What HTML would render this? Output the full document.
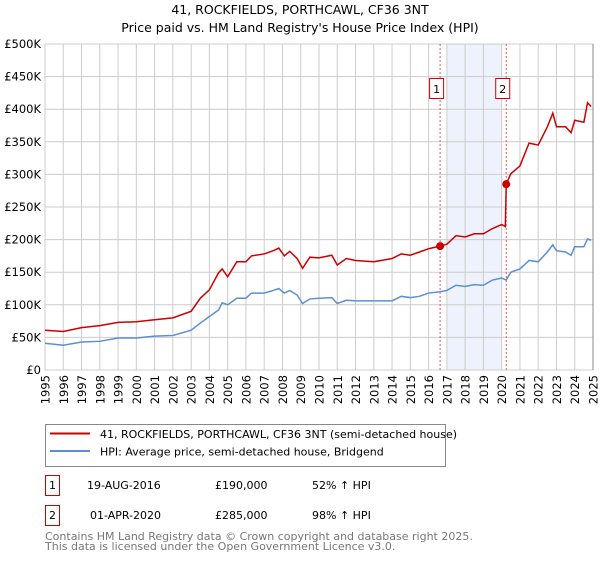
<!DOCTYPE html>
<html><head><meta charset="utf-8"><style>
body{margin:0;background:#fff;font-family:"Liberation Sans","DejaVu Sans",sans-serif;}
svg text{font-family:"DejaVu Sans","Liberation Sans",sans-serif;}
</style></head><body>
<svg id="chart" width="600" height="560" xmlns="http://www.w3.org/2000/svg">
<text x="300" y="14" font-size="12.5" text-anchor="middle">41, ROCKFIELDS, PORTHCAWL, CF36 3NT</text>
<text x="300" y="32" font-size="12.5" text-anchor="middle">Price paid vs. HM Land Registry's House Price Index (HPI)</text>
<g id="plot"></g>
<g>
<rect x="45.5" y="424.5" width="400" height="42" fill="#fff" stroke="#888"/>
<line x1="50" y1="433.5" x2="90" y2="433.5" stroke="#cc0000" stroke-width="2"/>
<text x="100" y="438" font-size="11">41, ROCKFIELDS, PORTHCAWL, CF36 3NT (semi-detached house)</text>
<line x1="50" y1="451" x2="90" y2="451" stroke="#5b8fd3" stroke-width="2"/>
<text x="100" y="455.5" font-size="11">HPI: Average price, semi-detached house, Bridgend</text>
</g>
<g font-size="11">
<rect x="45.5" y="475.5" width="14" height="20" fill="#fff" stroke="#cc0000"/>
<text x="52.5" y="489" text-anchor="middle">1</text>
<text x="87" y="489">19-AUG-2016</text><text x="215" y="489">£190,000</text><text x="312" y="489">52% ↑ HPI</text>
<rect x="45.5" y="505.5" width="14" height="20" fill="#fff" stroke="#cc0000"/>
<text x="52.5" y="519" text-anchor="middle">2</text>
<text x="90" y="519">01-APR-2020</text><text x="215" y="519">£285,000</text><text x="312" y="519">98% ↑ HPI</text>
</g>
<text x="45" y="540" font-size="11" fill="#777">Contains HM Land Registry data © Crown copyright and database right 2025.</text>
<text x="45" y="550" font-size="11" fill="#777">This data is licensed under the Open Government Licence v3.0.</text>
</svg>
<script>
const hpiYears=[1995,1996,1997,1998,1999,2000,2001,2002,2003,2003.5,2004,2004.5,2004.7,2005,2005.5,2006,2006.3,2007,2007.5,2007.8,2008.1,2008.4,2008.8,2009.1,2009.5,2010,2010.7,2011,2011.5,2012,2013,2014,2014.5,2015,2015.5,2016,2016.63,2017,2017.5,2018,2018.5,2019,2019.5,2020,2020.25,2020.5,2021,2021.5,2022,2022.5,2022.8,2023,2023.5,2023.8,2024,2024.5,2024.7,2024.9];
const hpiValues=[41,38,43,44,49,49,52,53,61,72,82,92,103,100,110,110,118,118,122,125,118,122,115,102,109,110,111,102,107,106,106,106,113,111,113,118,120,122,130,128,131,130,138,141,138,150,155,168,166,181,192,183,181,176,189,189,201,199];
const propYears=[1995,1996,1997,1998,1999,2000,2001,2002,2003,2003.5,2004,2004.5,2004.7,2005,2005.5,2006,2006.3,2007,2007.5,2007.8,2008.1,2008.4,2008.8,2009.1,2009.5,2010,2010.7,2011,2011.5,2012,2013,2014,2014.5,2015,2015.5,2016,2016.63,2017,2017.5,2018,2018.5,2019,2019.5,2020,2020.2,2020.25,2020.5,2021,2021.5,2022,2022.5,2022.8,2023,2023.5,2023.8,2024,2024.5,2024.7,2024.9];
const propValues=[61,59,65,68,73,74,77,80,90,110,123,149,155,143,166,166,175,178,183,187,175,182,171,156,173,172,176,161,171,168,166,171,178,176,181,186,190,193,206,204,209,209,217,223,220,285,301,313,348,345,373,394,373,373,364,383,380,410,404];
const saleYears=[2016.63,2020.25];
const saleValues=[190,285];
const saleLabels=["1","2"];
const yTicks=[0,50,100,150,200,250,300,350,400,450,500];
const yTickLabels=["£0","£50K","£100K","£150K","£200K","£250K","£300K","£350K","£400K","£450K","£500K"];
const xTicks=[1995,1996,1997,1998,1999,2000,2001,2002,2003,2004,2005,2006,2007,2008,2009,2010,2011,2012,2013,2014,2015,2016,2017,2018,2019,2020,2021,2022,2023,2024,2025];

const NS="http://www.w3.org/2000/svg";
const X0=45,X1=593,Y0=370,Y1=44;
const xs=y=>X0+(y-1995)/30*(X1-X0);
const ys=v=>Y0-v/500*(Y0-Y1);
const g=document.getElementById('plot');
function mk(t,a,p){const e=document.createElementNS(NS,t);for(const k in a)e.setAttribute(k,a[k]);(p||g).appendChild(e);return e;}
const shade=mk('rect',{x:xs(2017),y:Y1,width:xs(2020)-xs(2017),height:Y0-Y1,fill:'#eef2fc'});


xTicks.forEach(t=>{const l=mk('line',{x1:xs(t),x2:xs(t),y1:Y1,y2:Y0,stroke:'#ccc'});


const tx=mk('text',{transform:`translate(${xs(t)+4.5},${Y0+5}) rotate(-90)`,'font-size':11.5,'text-anchor':'end'});


tx.textContent=t;});
yTicks.forEach((t,i)=>{const l=mk('line',{x1:X0,x2:X1,y1:ys(t),y2:ys(t),stroke:'#ccc'});


const tx=mk('text',{x:X0-4,y:ys(t)+4,'font-size':11.5,'text-anchor':'end'});


tx.textContent=yTickLabels[i];});
saleYears.forEach((s,i)=>{const l=mk('line',{x1:xs(s),x2:xs(s),y1:Y1,y2:Y0,stroke:'#ee5555','stroke-dasharray':'2,2'});


const r=mk('rect',{x:xs(s)-10.5,y:78.5,width:14,height:20,fill:'#fff',stroke:'#cc0000'});


const t=mk('text',{x:xs(s)-3.5,y:93,'font-size':11,'text-anchor':'middle'});


t.textContent=saleLabels[i];});
const hp=mk('polyline',{points:hpiYears.map((y,i)=>xs(y)+','+ys(hpiValues[i])).join(' '),fill:'none',stroke:'#5b8fd3','stroke-width':1.5});


const pp=mk('polyline',{points:propYears.map((y,i)=>xs(y)+','+ys(propValues[i])).join(' '),fill:'none',stroke:'#cc0000','stroke-width':1.5});


saleYears.forEach((s,i)=>{const c=mk('circle',{cx:xs(s),cy:ys(saleValues[i]),r:4,fill:'#cc0000'});

});
const ax=mk('line',{x1:X1,x2:X1,y1:Y1,y2:Y0,stroke:'#888'});


</script>
</body></html>
